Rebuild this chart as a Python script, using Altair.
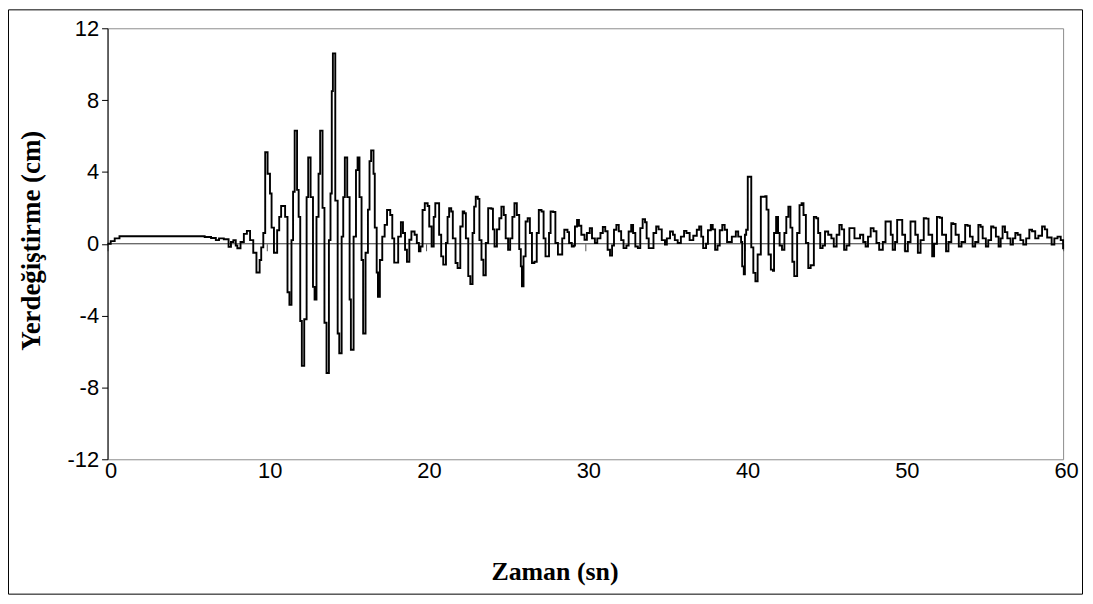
import altair as alt
import pandas as pd

# Time (s) of each plateau start
T = [0.0, 0.2, 0.45, 0.75, 6.1, 6.5, 6.8, 7.0, 7.3, 7.6, 7.75, 7.9, 8.05, 8.15, 8.35, 8.56, 8.75, 8.95, 9.15, 9.35,
     9.55, 9.65, 9.78, 9.9, 10.05, 10.2, 10.3, 10.45, 10.65, 10.78, 10.9, 11.15, 11.3, 11.42, 11.55, 11.65, 11.75, 11.9, 12.0, 12.1,
     12.2, 12.35, 12.5, 12.6, 12.75, 12.9, 13.0, 13.12, 13.25, 13.35, 13.5, 13.62, 13.75, 13.9, 14.0, 14.08, 14.15, 14.3, 14.45, 14.55,
     14.7, 14.8, 14.9, 15.05, 15.2, 15.28, 15.45, 15.6, 15.7, 15.82, 15.95, 16.05, 16.2, 16.35, 16.45, 16.55, 16.7, 16.78, 16.9, 16.98,
     17.1, 17.25, 17.4, 17.55, 17.75, 17.88, 18.0, 18.25, 18.42, 18.55, 18.68, 18.8, 18.95, 19.08, 19.28, 19.42, 19.55, 19.65, 19.78, 19.92,
     20.1, 20.2, 20.35, 20.48, 20.58, 20.82, 20.95, 21.08, 21.25, 21.35, 21.45, 21.58, 21.68, 21.85, 21.98, 22.15, 22.3, 22.4, 22.5, 22.65,
     22.78, 22.92, 23.02, 23.12, 23.25, 23.35, 23.48, 23.6, 23.75, 23.9, 24.1, 24.2, 24.3, 24.45, 24.6, 24.73, 24.88, 25.0, 25.15, 25.28,
     25.42, 25.55, 25.7, 25.85, 25.95, 26.02, 26.12, 26.25, 26.38, 26.52, 26.65, 26.8, 26.95, 27.08, 27.25, 27.38, 27.5, 27.62, 27.72, 27.82,
     27.98, 28.12, 28.28, 28.42, 28.55, 28.68, 28.88, 28.98, 29.15, 29.28, 29.35, 29.48, 29.6, 29.75, 29.95, 30.1, 30.28, 30.42, 30.6, 30.75,
     30.95, 31.1, 31.25, 31.4, 31.55, 31.68, 31.8, 31.95, 32.1, 32.25, 32.4, 32.58, 32.72, 32.88, 33.0, 33.14, 33.3, 33.45, 33.6, 33.75,
     33.85, 33.98, 34.12, 34.28, 34.45, 34.6, 34.8, 35.0, 35.12, 35.32, 35.5, 35.62, 35.8, 36.0, 36.2, 36.35, 36.55, 36.78, 37.0, 37.15,
     37.28, 37.4, 37.58, 37.7, 37.88, 38.0, 38.15, 38.3, 38.44, 38.6, 38.75, 38.9, 39.2, 39.45, 39.6, 39.78, 39.85, 39.95, 40.02, 40.1,
     40.2, 40.42, 40.55, 40.68, 40.82, 41.02, 41.3, 41.38, 41.5, 41.65, 41.78, 41.85, 41.98, 42.1, 42.2, 42.35, 42.5, 42.62, 42.75, 42.88,
     43.0, 43.12, 43.3, 43.45, 43.58, 43.7, 43.85, 44.0, 44.15, 44.35, 44.5, 44.62, 44.75, 44.9, 45.05, 45.25, 45.45, 45.6, 45.78, 45.95,
     46.1, 46.25, 46.4, 46.58, 46.75, 46.9, 47.1, 47.25, 47.45, 47.6, 47.75, 47.92, 48.1, 48.28, 48.45, 48.68, 48.85, 49.08, 49.18, 49.3,
     49.45, 49.58, 49.75, 49.9, 50.08, 50.25, 50.42, 50.6, 50.72, 50.88, 51.05, 51.25, 51.4, 51.55, 51.78, 51.9, 52.08, 52.25, 52.4, 52.65,
     52.8, 52.98, 53.1, 53.25, 53.45, 53.62, 53.85, 54.0, 54.15, 54.32, 54.48, 54.68, 54.82, 54.95, 55.15, 55.3, 55.48, 55.62, 55.78, 55.95,
     56.08, 56.2, 56.35, 56.5, 56.7, 56.85, 57.0, 57.15, 57.32, 57.5, 57.68, 57.88, 58.05, 58.25, 58.45, 58.68, 58.85, 59.0, 59.28, 59.45,
     59.65, 59.85, 60.0]

# Displacement (cm) on each plateau
Y = [0.0, 0.15, 0.3, 0.42, 0.38, 0.32, 0.2, 0.3, 0.25, -0.17, 0.1, 0.2, -0.1, -0.25, 0.1, 0.55, 0.72, 0.2, -0.5, -1.6,
     -0.9, -0.2, 0.6, 5.1, 3.9, 2.8, 0.9, -0.5, 0.75, 1.5, 2.1, 1.5, -2.7, -3.4, 0.2, 2.9, 6.3, 3.0, 1.5, -4.3,
     -6.8, -4.2, 2.6, 4.8, 2.6, -2.4, -3.1, 1.5, 3.9, 6.3, 2.0, -4.4, -7.2, 0.2, 2.8, 8.5, 10.6, 2.4, -5.0, -6.1,
     0.4, 2.6, 4.8, 2.6, -3.1, -5.9, 0.4, 4.1, 4.8, 2.6, -0.9, -5.0, -0.5, 1.9, 4.6, 5.2, 3.9, 0.9, -1.6, -2.95,
     -0.9, 0.4, 1.05, 1.88, 1.6, 0.3, -1.05, 0.4, 1.2, 0.6, -0.33, -1.0, 0.22, 0.68, 0.5, 0.04, -0.42, -0.15, 1.88, 2.26,
     2.1, 0.96, -0.15, 1.5, 2.26, 0.5, -0.7, -1.16, 0.04, 1.5, 1.98, 1.8, 0.3, -1.07, -1.35, 0.96, 1.8, 1.7, 0.3, -1.8,
     -2.25, 0.6, 2.07, 2.62, 2.5, 0.2, -0.89, -1.75, 0.04, 1.98, 1.95, 0.8, -0.15, 0.8, 1.42, 2.07, 1.6, 0.3, -0.33, 0.3,
     1.5, 2.26, 1.6, -0.3, -1.26, -2.37, -0.7, 1.24, 1.42, 0.6, -1.07, -1.0, 0.6, 1.88, 1.8, 0.3, -0.7, -0.7, 0.6, 1.8,
     1.77, 0.04, -0.6, -0.6, 0.3, 0.78, 0.65, 0.04, -0.15, -0.1, 0.96, 1.33, 1.0, 0.5, 0.22, 0.6, 0.87, 0.3, 0.04, 0.3,
     0.6, 0.93, 0.7, -0.33, -0.66, -0.1, 0.78, 1.05, 0.7, 0.2, -0.24, -0.1, 0.68, 1.05, 0.6, -0.15, -0.24, 0.87, 1.37, 1.2,
     0.3, -0.24, -0.24, 0.6, 0.96, 0.8, 0.2, -0.05, 0.3, 0.68, 0.5, 0.2, 0.04, 0.4, 0.72, 0.6, 0.2, 0.45, 0.78, 0.96,
     0.4, -0.24, 0.0, 0.75, 1.05, 0.8, -0.33, -0.1, 0.75, 1.05, 0.78, 0.1, 0.4, 0.68, 0.4, 0.1, -1.26, -1.7, 0.5, 0.78,
     3.73, -0.2, -1.62, -2.09, -0.6, 2.62, 2.65, 1.9, -0.6, -1.44, -1.5, 0.6, 1.5, 0.6, -0.1, -0.33, 0.6, 1.5, 2.07, 0.9,
     -1.0, -1.8, 0.6, 2.15, 2.26, 1.6, 0.04, -1.35, -1.2, 1.5, 1.42, 0.6, -0.24, -0.1, 0.68, 0.5, 0.3, -0.15, 0.5, 1.05,
     0.8, -0.33, -0.1, 0.87, 0.87, 0.3, 0.3, 0.5, 0.1, -0.15, 0.4, 0.87, 0.7, 0.04, -0.33, 0.1, 1.24, 1.24, 0.5, -0.33,
     0.1, 1.33, 1.33, 0.5, -0.42, 0.1, 1.24, 1.24, 0.5, -0.5, 0.2, 1.42, 1.4, 0.5, -0.7, 0.0, 1.5, 1.45, 0.5, -0.42,
     0.1, 1.15, 1.1, 0.5, -0.15, 0.1, 1.05, 1.0, 0.4, -0.15, 0.1, 1.05, 0.95, 0.3, -0.15, 0.2, 0.96, 0.9, 0.4, -0.15,
     0.3, 0.96, 0.65, 0.3, -0.05, 0.3, 0.6, 0.5, 0.2, -0.05, 0.3, 0.78, 0.7, 0.3, 0.45, 0.96, 0.8, 0.35, -0.05, 0.3,
     0.4, 0.2, -0.3]

X_TICKS = [0, 10, 20, 30, 40, 50, 60]
Y_TICKS = [-12, -8, -4, 0, 4, 8, 12]
ZERO_T = [0, 60]
ZERO_Y = [0, 0]

W, H = 960, 433

df = pd.DataFrame({"t": T, "y": Y})
zero_df = pd.DataFrame({"t": ZERO_T, "y": ZERO_Y})

xscale = alt.Scale(domain=[0, 60], nice=False, zero=False)
yscale = alt.Scale(domain=[-12, 12], nice=False, zero=False)

line = alt.Chart(df).mark_line(color="black", strokeWidth=1.9, interpolate="step-after").encode(
    x=alt.X("t:Q", scale=xscale, axis=alt.Axis(
        orient="bottom", values=X_TICKS, domain=False, ticks=False, tickSize=0, grid=False,
        labelPadding=11, labelBaseline="middle", labelFlush=False, labelOffset=3,
        labelFont="Liberation Sans", labelFontSize=22,
        labelColor="black", labelExpr="'' + datum.value",
        title="Zaman (sn)", titleFont="Liberation Serif", titleFontSize=26, titleFontWeight="bold",
        titleColor="black", titleX=449, titleY=113, titleBaseline="middle", titleAlign="center")),
    y=alt.Y("y:Q", scale=yscale, axis=alt.Axis(
        orient="left", values=Y_TICKS, grid=False, domainColor="black", domainWidth=1,
        tickColor="black", tickSize=6, labelPadding=3, labelFont="Liberation Sans", labelFontSize=22,
        labelColor="black", labelExpr="'' + datum.value",
        title="Yerdeğiştirme (cm)", titleFont="Liberation Serif", titleFontSize=27, titleFontWeight="bold",
        titleColor="black", titleAngle=270, titleX=-76, titleY=213, titleBaseline="middle", titleAlign="center")),
)

zero = alt.Chart(zero_df).mark_line(color="#333333", strokeWidth=1).encode(
    x=alt.X("t:Q", scale=xscale, axis=alt.Axis(
        orient="bottom", offset=-(H / 2), values=X_TICKS, domain=False, ticks=True, tickSize=7,
        tickColor="#555555", labels=False, grid=False, title=None)),
    y=alt.Y("y:Q", scale=yscale),
)

frame = alt.Chart(pd.DataFrame({"k": [0]})).mark_rect(filled=False, stroke="black", strokeWidth=1).encode(
    x=alt.value(-99.5), x2=alt.value(W + 19.5), y=alt.value(-18.5), y2=alt.value(H + 135.5)
)

chart = alt.layer(zero, line, frame).resolve_axis(x="independent").properties(
    width=W, height=H,
    autosize=alt.AutoSizeParams(type="none"),
    padding={"left": 100, "top": 19, "right": 22, "bottom": 136},
    background="white",
).configure_view(stroke="#8c8c8c", strokeWidth=1)

chart.save("out.html", embed_options={"renderer": "svg", "actions": False})
